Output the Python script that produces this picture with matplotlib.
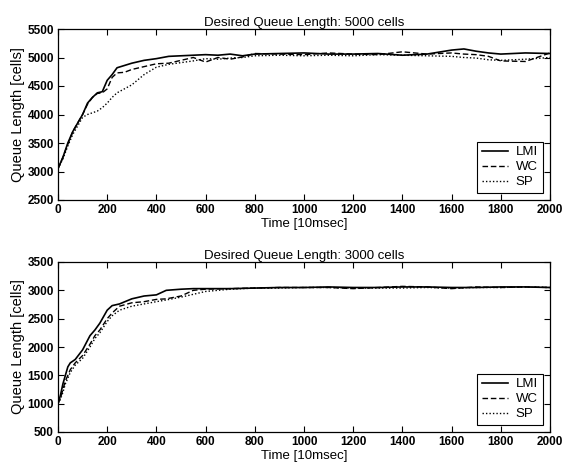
import matplotlib
matplotlib.use("Agg")
import matplotlib.pyplot as plt

plt.rcParams['font.family'] = ['Liberation Sans', 'DejaVu Sans']

# Top panel: desired queue 5000 cells
t1 = [0, 20, 40, 60, 80, 100, 120, 140, 160, 180, 200, 220, 240, 270, 300, 350, 400, 450, 500, 550,
      600, 650, 700, 750, 800, 900, 1000, 1100, 1200, 1300, 1400, 1500, 1600, 1650, 1700, 1750, 1800, 1900, 2000]
lmi1 = [3050, 3250, 3500, 3700, 3850, 4000, 4200, 4300, 4380, 4400, 4600, 4700, 4820, 4860, 4900, 4950, 4980, 5020, 5030, 5040,
        5050, 5040, 5060, 5030, 5060, 5070, 5080, 5060, 5060, 5070, 5040, 5060, 5130, 5150, 5110, 5080, 5060, 5080, 5070]
wc1 = [3050, 3250, 3480, 3700, 3850, 4000, 4180, 4300, 4370, 4380, 4450, 4650, 4730, 4740, 4790, 4840, 4890, 4900, 4950, 5000,
       4920, 5000, 4970, 5010, 5070, 5060, 5050, 5080, 5060, 5050, 5100, 5060, 5080, 5060, 5050, 5020, 4940, 4930, 5080]
sp1 = [3050, 3220, 3450, 3650, 3800, 3950, 4000, 4030, 4060, 4120, 4200, 4300, 4380, 4450, 4520, 4700, 4830, 4880, 4910, 4940,
       4980, 4970, 4990, 5000, 5030, 5040, 5030, 5040, 5030, 5050, 5040, 5030, 5020, 5000, 4990, 4960, 4950, 4970, 5000]

# Bottom panel: desired queue 3000 cells
t2 = [0, 10, 20, 30, 40, 50, 70, 100, 130, 150, 170, 200, 220, 250, 300, 350, 400, 440, 500, 550,
      600, 700, 800, 900, 1000, 1100, 1200, 1300, 1400, 1500, 1600, 1700, 1800, 1900, 2000]
lmi2 = [1000, 1150, 1350, 1500, 1650, 1720, 1780, 1950, 2200, 2300, 2420, 2650, 2730, 2760, 2850, 2900, 2920, 3000, 3020, 3030,
        3030, 3030, 3040, 3050, 3050, 3060, 3050, 3050, 3060, 3060, 3050, 3050, 3060, 3060, 3050]
wc2 = [1000, 1100, 1250, 1400, 1500, 1600, 1720, 1850, 2050, 2200, 2300, 2500, 2600, 2720, 2780, 2800, 2840, 2850, 2900, 3000,
       3020, 3030, 3040, 3050, 3050, 3050, 3030, 3050, 3070, 3060, 3030, 3060, 3050, 3060, 3050]
sp2 = [1000, 1080, 1200, 1350, 1450, 1550, 1680, 1800, 2000, 2150, 2250, 2450, 2550, 2650, 2720, 2760, 2800, 2830, 2880, 2930,
       2980, 3020, 3040, 3040, 3050, 3050, 3040, 3040, 3040, 3050, 3040, 3050, 3050, 3060, 3050]

fig = plt.figure(figsize=(5.66, 4.66), dpi=100)
ax1 = fig.add_axes([58/566, 1 - 200/466, 492/566, 171/466])
ax2 = fig.add_axes([58/566, 1 - 432/466, 492/566, 170/466])

panels = [
    (ax1, t1, lmi1, wc1, sp1, 'Desired Queue Length: 5000 cells', (2500, 5500)),
    (ax2, t2, lmi2, wc2, sp2, 'Desired Queue Length: 3000 cells', (500, 3500)),
]
for ax, t, a, b, c, title, ylim in panels:
    ax.plot(t, a, color='black', lw=1.2, ls='-', label='LMI')
    ax.plot(t, b, color='black', lw=1.0, ls=(0, (4, 2)), label='WC')
    ax.plot(t, c, color='black', lw=1.0, ls=(0, (1, 1.5)), label='SP')
    ax.set_xlim(0, 2000)
    ax.set_ylim(*ylim)
    ax.set_xticks(range(0, 2001, 200))
    ax.set_yticks(range(ylim[0], ylim[1] + 1, 500))
    ax.tick_params(direction='in', top=True, right=True, labelsize=8.5, length=4, width=0.8, pad=3)
    for lab in ax.get_xticklabels() + ax.get_yticklabels():
        lab.set_fontweight('bold')
    ax.set_title(title, fontsize=9.5, pad=2.5)
    ax.set_xlabel('Time [10msec]', fontsize=9.5, labelpad=1)
    ax.set_ylabel('Queue Length [cells]', fontsize=10.5, labelpad=2)
    for s in ax.spines.values():
        s.set_linewidth(0.9)
    leg = ax.legend(loc='lower right', fontsize=9.5, fancybox=False, edgecolor='black',
                    framealpha=1, borderpad=0.35, labelspacing=0.2, handlelength=2.0,
                    handletextpad=0.6, borderaxespad=0.55)
    leg.get_frame().set_linewidth(0.8)

fig.savefig('out.png', dpi=100)
